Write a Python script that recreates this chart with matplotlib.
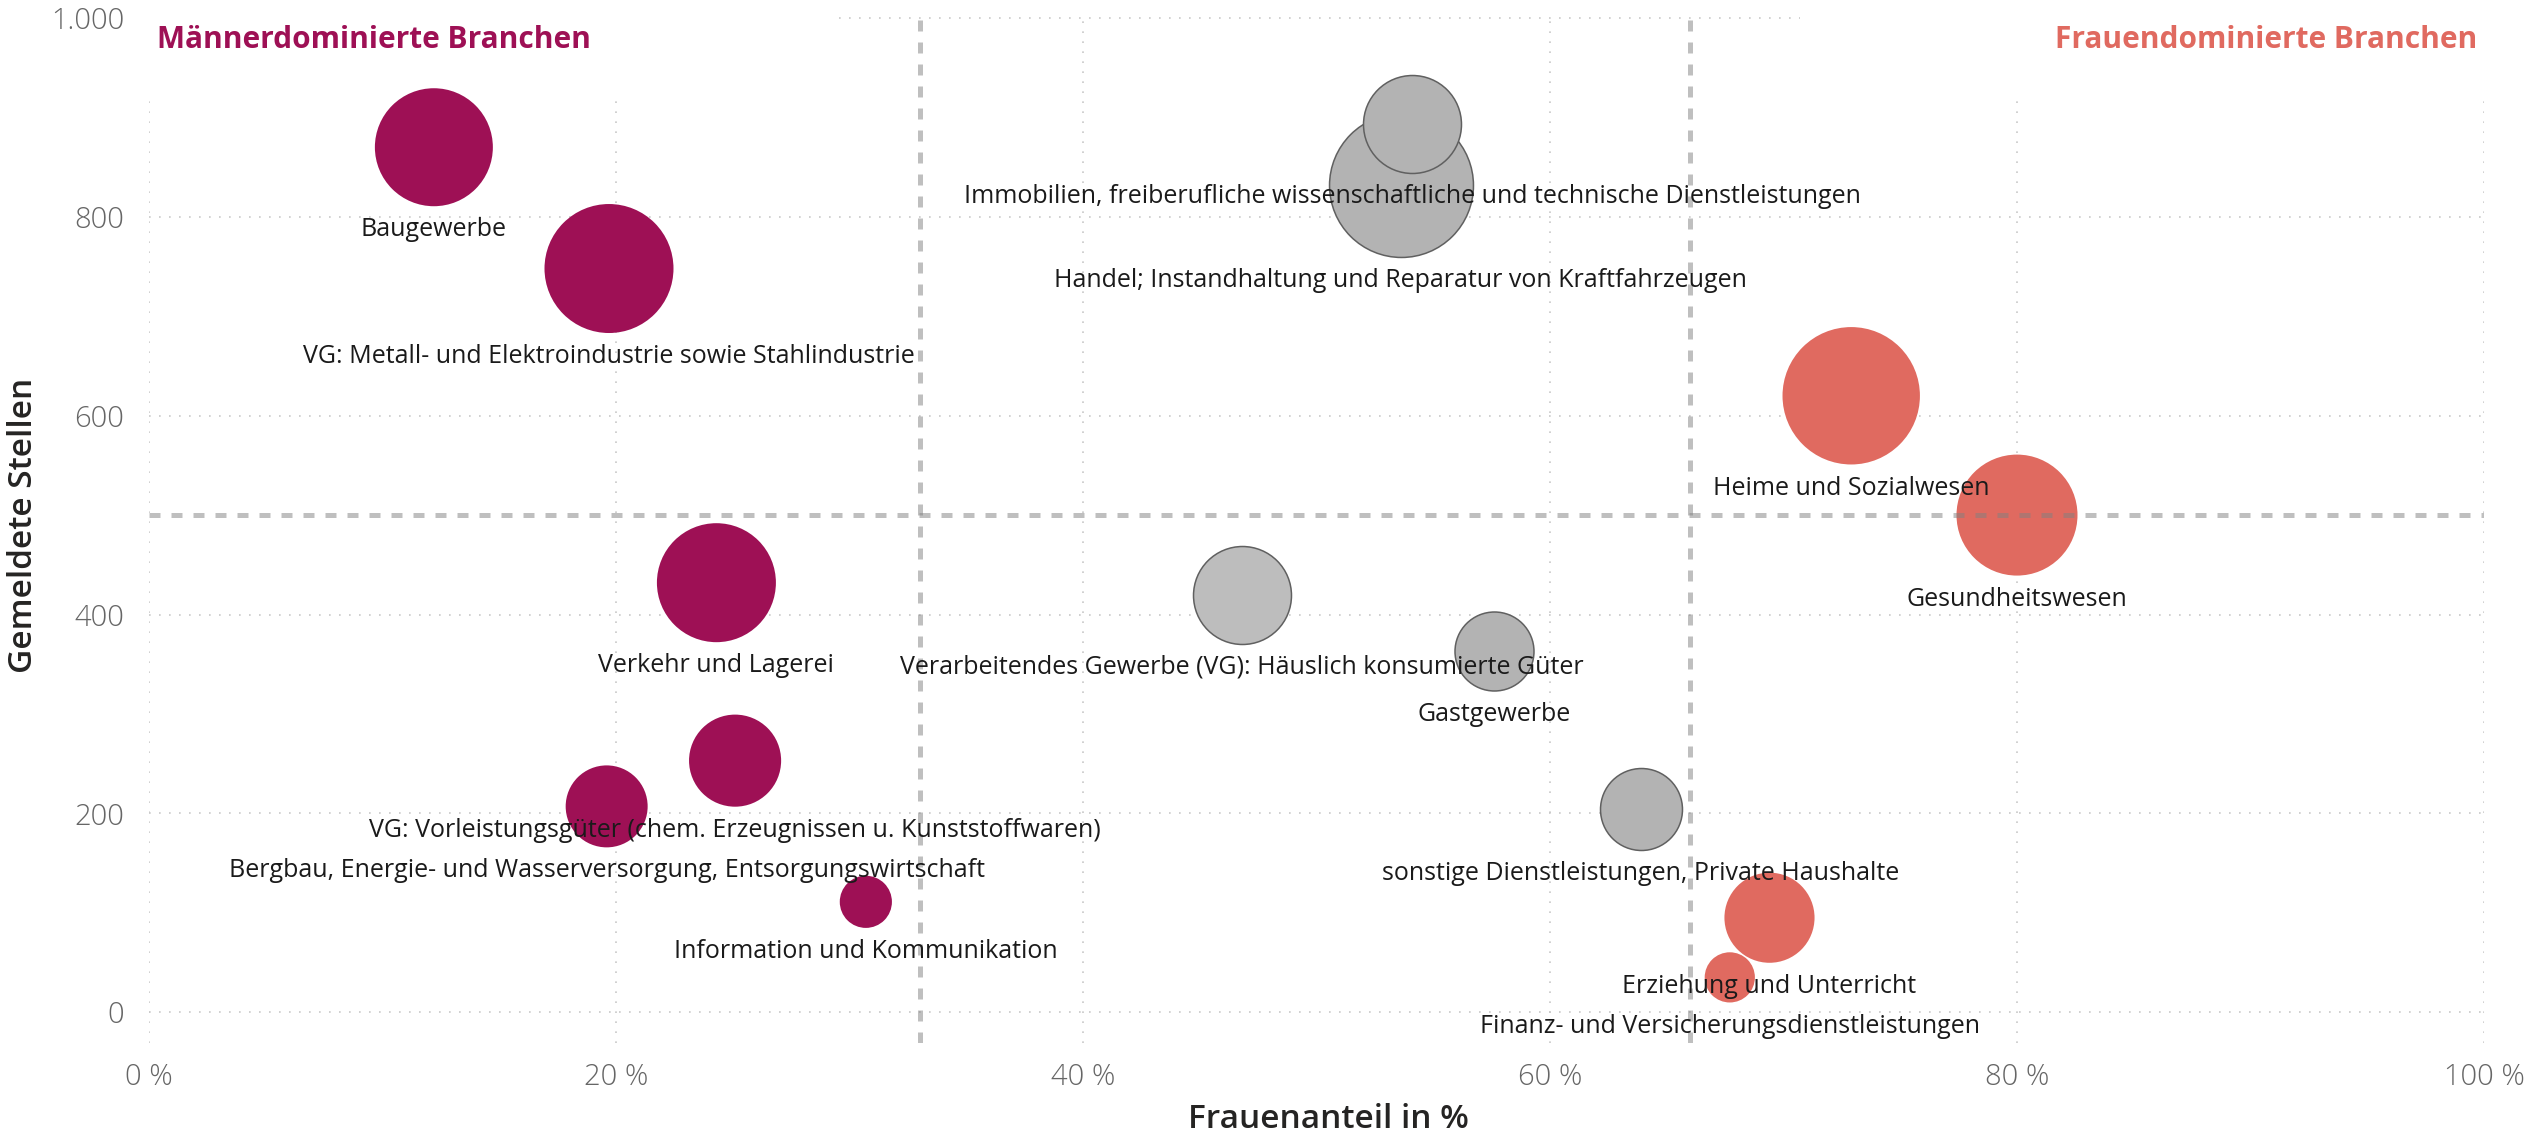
import numpy as np
import matplotlib
matplotlib.use("Agg")
import matplotlib.pyplot as plt
from matplotlib.patches import Rectangle
from matplotlib.ticker import FuncFormatter

# Branchen, Frauenanteil (%), gemeldete Stellen, Blasengroesse, Gruppe
branchen = [
    "Baugewerbe",
    "VG: Metall- und Elektroindustrie sowie Stahlindustrie",
    "Verkehr und Lagerei",
    "VG: Vorleistungsgüter (chem. Erzeugnissen u. Kunststoffwaren)",
    "Bergbau, Energie- und Wasserversorgung, Entsorgungswirtschaft",
    "Information und Kommunikation",
    "Handel; Instandhaltung und Reparatur von Kraftfahrzeugen",
    "Immobilien, freiberufliche wissenschaftliche und technische Dienstleistungen",
    "Verarbeitendes Gewerbe (VG): Häuslich konsumierte Güter",
    "Gastgewerbe",
    "sonstige Dienstleistungen, Private Haushalte",
    "Heime und Sozialwesen",
    "Gesundheitswesen",
    "Erziehung und Unterricht",
    "Finanz- und Versicherungsdienstleistungen",
]
frauenanteil = [12.2, 19.7, 24.3, 25.1, 19.6, 30.7, 53.6, 54.1, 46.8, 57.6, 63.9, 72.9, 80.0, 69.4, 67.7]
stellen = [870, 748, 432, 253, 207, 111, 832, 893, 420, 363, 204, 620, 500, 95, 35]
groesse = [34.8, 41.6, 35.4, 21.2, 16.8, 6.8, 51.8, 24.0, 24.0, 15.6, 16.8, 47.2, 36.6, 20.3, 6.3]
gruppe = ["m", "m", "m", "m", "m", "m", "n", "n", "n", "n", "n", "w", "w", "w", "w"]

x_ticks = [0, 20, 40, 60, 80, 100]
y_ticks = [0, 200, 400, 600, 800, 1000]
grenzen_x = [33, 66]   # Drittel-Grenzen Frauenanteil
grenze_y = 500

farben = {"m": "#9E1055", "w": "#E06A60", "n": "#B3B3B3"}

DPI = 100
plt.rcParams["font.family"] = ["Open Sans", "DejaVu Sans"]

fig = plt.figure(figsize=(25.33, 11.38), dpi=DPI)
ax = fig.add_axes([149 / 2533, 1 - 1043 / 1138, 2335 / 2533, (1043 - 15) / 1138])
ax.set_xlim(0, 100)
ax.set_ylim(-31, 1003)

# grid
for xt in x_ticks:
    ax.axvline(xt, color="#C8C8C8", lw=1.2, ls=(0, (1, 5)), zorder=1)
for yt in y_ticks:
    ax.axhline(yt, color="#C8C8C8", lw=1.2, ls=(0, (1, 5)), zorder=1)

# white boxes behind the headers hide the grid there
ax.add_patch(Rectangle((0, 917), 29.5, 100, facecolor="white", edgecolor="none", zorder=1.5))
ax.add_patch(Rectangle((70.7, 917), 29.3, 100, facecolor="white", edgecolor="none", zorder=1.5))

# bubbles: radius in px = sqrt(groesse) * 10
r_px = np.sqrt(np.array(groesse)) * 10
r_pt = r_px * 72 / DPI
for i in range(len(branchen)):
    c = farben[gruppe[i]]
    if gruppe[i] == "n":
        fc = "#BDBDBD" if i == 8 else c
        ax.scatter(frauenanteil[i], stellen[i], s=(2 * r_pt[i]) ** 2, color=fc,
                   edgecolors="#606060", linewidths=1.1, zorder=3)
    else:
        ax.scatter(frauenanteil[i], stellen[i], s=(2 * r_pt[i]) ** 2, color=c,
                   edgecolors="none", zorder=3)

# quadrant lines
for gx in grenzen_x:
    ax.axvline(gx, color="#808080", alpha=0.5, lw=3.6, ls=(0, (2.2, 2.2)), zorder=4)
ax.axhline(grenze_y, color="#808080", alpha=0.5, lw=3.6, ls=(0, (2.2, 2.2)), zorder=4)

# labels under the bubbles
for i in range(len(branchen)):
    ax.annotate(branchen[i], (frauenanteil[i], stellen[i]),
                xytext=(0, -(r_pt[i] + 17)), textcoords="offset points",
                ha="center", va="center", fontsize=18, color="#1a1a1a", zorder=5)

ax.text(0.35, 978, "Männerdominierte Branchen", color=farben["m"], fontsize=21.5,
        fontweight="bold", ha="left", va="center", zorder=6)
ax.text(99.7, 978, "Frauendominierte Branchen", color=farben["w"], fontsize=21.5,
        fontweight="bold", ha="right", va="center", zorder=6)

ax.set_xticks(x_ticks)
ax.set_yticks(y_ticks)
ax.xaxis.set_major_formatter(FuncFormatter(lambda v, p: f"{int(v)} %"))
ax.yaxis.set_major_formatter(FuncFormatter(lambda v, p: f"{int(v):,}".replace(",", ".")))
ax.tick_params(axis="both", length=0, labelsize=21, labelcolor="#666666")
ax.tick_params(axis="x", pad=14)
ax.tick_params(axis="y", pad=18)
for lab in ax.get_xticklabels() + ax.get_yticklabels():
    lab.set_fontweight("light")
for sp in ax.spines.values():
    sp.set_visible(False)

fig.text(1328 / 2533, 1 - 1119 / 1138, "Frauenanteil in %", fontsize=24, color="#252423",
         fontweight="semibold", ha="center", va="center")
fig.text(24 / 2533, 1 - 525 / 1138, "Gemeldete Stellen", fontsize=24, color="#252423",
         fontweight="semibold", ha="center", va="center", rotation=90)

fig.savefig("out.png", dpi=DPI)
